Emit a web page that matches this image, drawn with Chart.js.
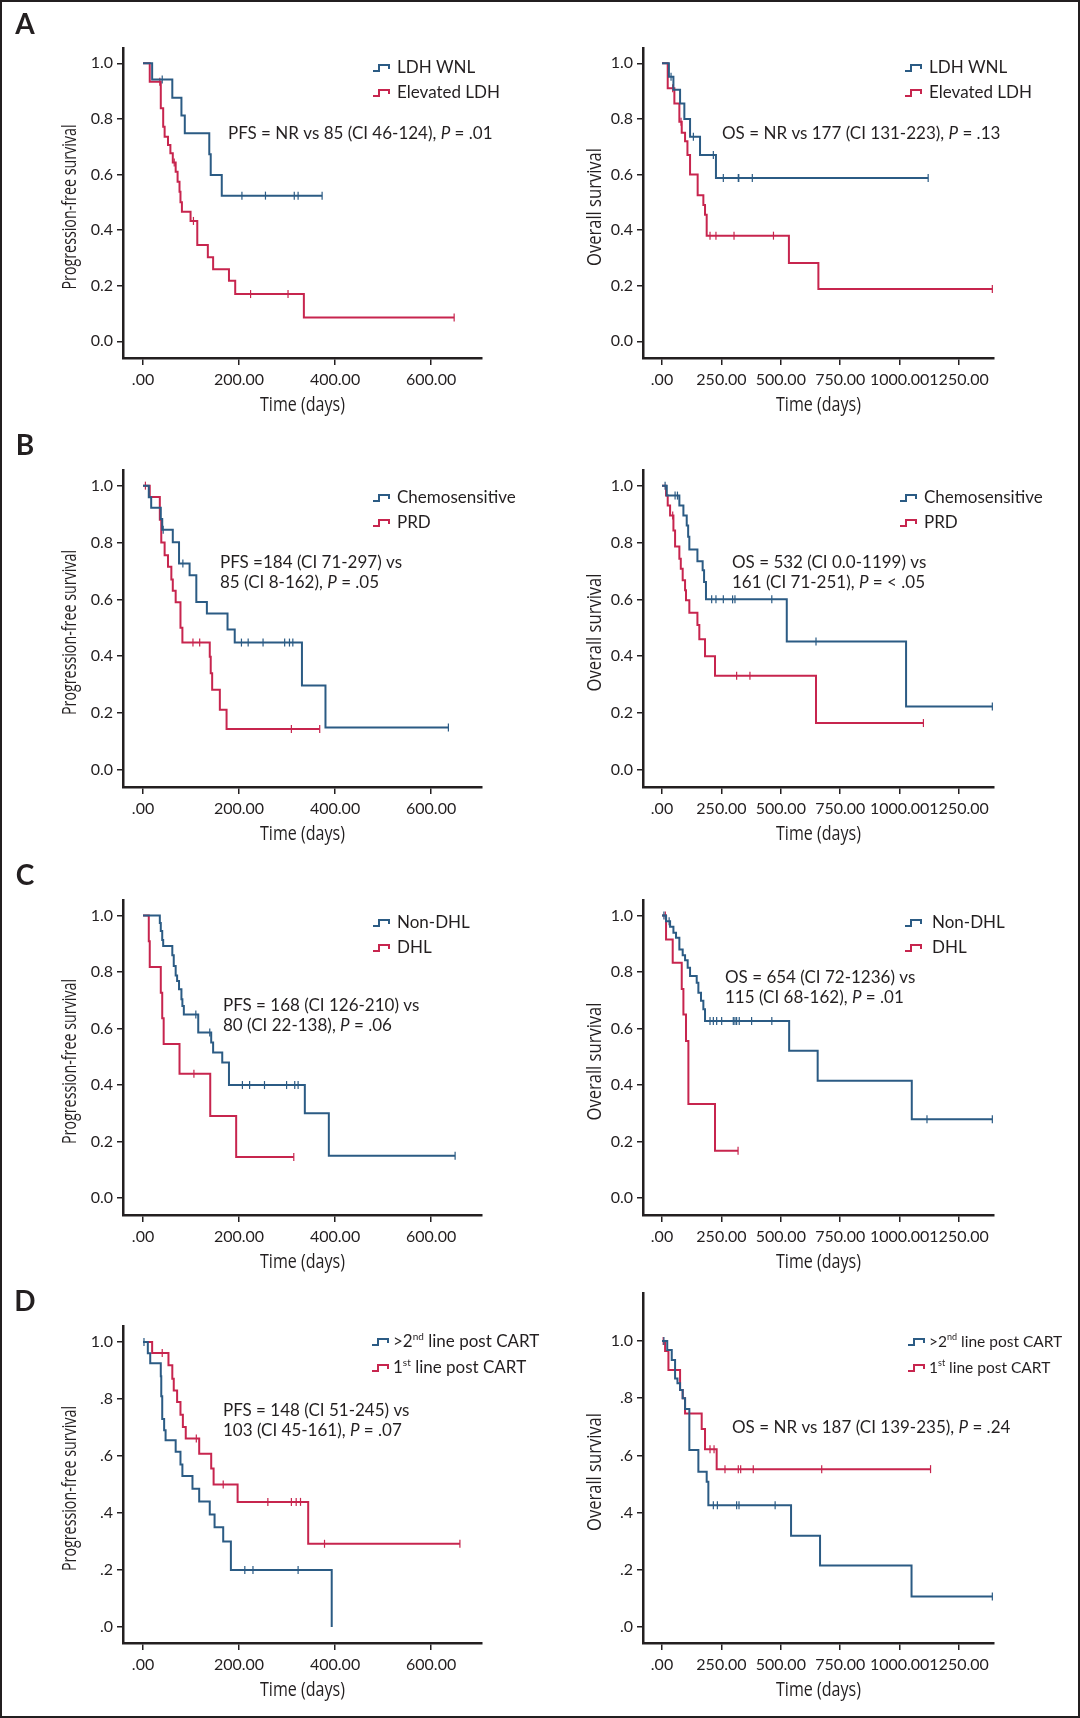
<!DOCTYPE html>
<html>
<head>
<meta charset="utf-8">
<script src="https://cdn.jsdelivr.net/npm/chart.js@4.4.1/dist/chart.umd.min.js"></script>
<style>
  html, body { margin: 0; padding: 0; background: #fff; }
  #fig { position: relative; width: 1080px; height: 1718px; overflow: hidden; }
  #frame { position: absolute; left: 0; top: 0; width: 1080px; height: 1718px; box-sizing: border-box; border: 2px solid #231f20; z-index: 2; }
  canvas { position: absolute; }
</style>
</head>
<body>
<div id="fig"><div id="frame"></div></div>
<script>
// ---- data: Kaplan-Meier steps [days, survival], censor times in days ----
const xTicksPfs = [0, 200, 400, 600];
const xTicksOs = [0, 250, 500, 750, 1000, 1250];
const yTicks = [0, 0.2, 0.4, 0.6, 0.8, 1.0];

// A: LDH
const aPfsWnl = [[0,1],[19,0.942],[61,0.876],[80,0.812],[87,0.748],[138,0.673],[141,0.598],[164,0.524],[373,0.524]];
const aPfsWnlCens = [40, 206, 255, 315, 323, 373];
const aPfsHigh = [[0,1],[14,0.934],[37,0.838],[42,0.772],[45,0.736],[52,0.706],[57,0.676],[62,0.643],[68,0.61],[72,0.574],[76,0.538],[78,0.5],[81,0.466],[99,0.433],[113,0.346],[135,0.302],[146,0.259],[179,0.218],[192,0.17],[335,0.086],[648,0.086]];
const aPfsHighCens = [35, 65, 105, 224, 302, 648];
const aOsWnl = [[0,1],[29,0.952],[48,0.905],[76,0.855],[94,0.8],[118,0.736],[160,0.67],[227,0.587],[1120,0.587]];
const aOsWnlCens = [38, 132, 216, 258, 321, 323, 380, 1120];
const aOsHigh = [[0,1],[24,0.91],[52,0.855],[73,0.79],[83,0.75],[97,0.72],[107,0.67],[118,0.6],[150,0.525],[174,0.49],[181,0.455],[188,0.38],[534,0.282],[658,0.188],[1390,0.188]];
const aOsHighCens = [45, 80, 202, 227, 303, 469, 1390];

// B: chemosensitive vs PRD
const bPfsChemo = [[0,1],[12,0.959],[17,0.922],[37,0.883],[40,0.845],[62,0.801],[75,0.726],[97,0.685],[111,0.591],[133,0.55],[176,0.494],[191,0.448],[331,0.297],[380,0.149],[636,0.149]];
const bPfsChemoCens = [42, 83, 205, 219, 250, 295, 305, 312, 636];
const bPfsPrd = [[0,1],[14,0.96],[35,0.88],[38,0.8],[45,0.755],[52,0.715],[59,0.67],[62,0.63],[68,0.59],[78,0.5],[82,0.448],[139,0.398],[141,0.34],[144,0.282],[160,0.212],[174,0.144],[368,0.144]];
const bPfsPrdCens = [5, 104, 118, 309, 368];
const bOsChemo = [[0,1],[20,0.965],[73,0.93],[90,0.895],[104,0.86],[110,0.82],[115,0.775],[149,0.734],[171,0.702],[177,0.661],[185,0.6],[525,0.452],[1027,0.223],[1390,0.223]];
const bOsChemoCens = [13, 55, 65, 209, 227, 258, 297, 307, 462, 648, 1390];
const bOsPrd = [[0,1],[17,0.965],[24,0.93],[34,0.895],[48,0.842],[55,0.786],[73,0.743],[79,0.708],[87,0.667],[97,0.632],[101,0.597],[115,0.553],[149,0.51],[157,0.46],[181,0.4],[223,0.331],[648,0.165],[1100,0.165]];
const bOsPrdCens = [45, 314, 370, 1100];

// C: non-DHL vs DHL
const cPfsNon = [[0,1],[35,0.974],[37,0.945],[40,0.913],[42,0.892],[61,0.859],[64,0.821],[68,0.788],[71,0.768],[75,0.739],[80,0.704],[82,0.68],[85,0.65],[115,0.586],[142,0.551],[146,0.515],[165,0.48],[179,0.4],[337,0.3],[387,0.15],[650,0.15]];
const cPfsNonCens = [110, 139, 207, 222, 253, 299, 316, 323, 650];
const cPfsDhl = [[0,1],[12,0.909],[14,0.818],[37,0.727],[40,0.636],[43,0.545],[76,0.44],[140,0.29],[194,0.145],[314,0.145]];
const cPfsDhlCens = [106, 314];
const cOsNon = [[0,1],[17,0.98],[34,0.96],[48,0.939],[59,0.921],[73,0.88],[87,0.859],[97,0.842],[108,0.815],[118,0.786],[146,0.762],[153,0.727],[164,0.698],[174,0.668],[181,0.627],[535,0.521],[655,0.415],[1051,0.279],[1390,0.279]];
const cOsNonCens = [8, 30, 202, 216, 230, 251, 300, 307, 314, 325, 377, 462, 1115, 1390];
const cOsDhl = [[0,1],[17,0.915],[45,0.833],[83,0.74],[90,0.65],[101,0.556],[111,0.333],[223,0.167],[320,0.167]];
const cOsDhlCens = [14, 320];

// D: >2nd line vs 1st line post CART
const dPfsLate = [[0,1],[10,0.96],[15,0.925],[37,0.88],[38,0.81],[40,0.73],[44,0.69],[47,0.655],[68,0.615],[78,0.57],[82,0.53],[103,0.485],[117,0.44],[139,0.395],[149,0.35],[167,0.3],[183,0.2],[393,0.0]];
const dPfsLateCens = [2, 212, 229, 323];
const dPfsFirst = [[0,1],[19,0.961],[53,0.918],[61,0.871],[64,0.83],[71,0.789],[78,0.745],[83,0.702],[89,0.661],[117,0.608],[142,0.556],[147,0.5],[197,0.439],[344,0.292],[660,0.292]];
const dPfsFirstCens = [40, 111, 167, 260, 309, 319, 328, 378, 660];
const dOsLate = [[0,1],[22,0.969],[41,0.934],[55,0.869],[65,0.852],[76,0.829],[87,0.8],[97,0.762],[115,0.619],[153,0.543],[188,0.508],[195,0.426],[543,0.319],[665,0.215],[1050,0.107],[1390,0.107]];
const dOsLateCens = [8, 216, 233, 314, 324, 476, 1390];
const dOsFirst = [[0,1],[13,0.965],[27,0.899],[76,0.829],[87,0.8],[97,0.747],[167,0.692],[181,0.622],[230,0.552],[1130,0.552]];
const dOsFirstCens = [5, 202, 219, 265, 321, 331, 384, 672, 1130];

// ---- styles ----
const ink = '#231f20';
const blue = '#2b5b84';
const red = '#c7254e';
const tickFont = { family: 'Lato, "Open Sans", sans-serif', size: 16 };
const textFamily = 'Lato, "Open Sans", sans-serif';

function survAt(steps, t) {
  let s = 1;
  for (const [ti, si] of steps) { if (ti <= t) s = si; }
  return s;
}

// draws text with *italic* and ^superscript^ runs
function drawRuns(ctx, x, y, str, size) {
  const parts = str.split(/(\*[^*]+\*|\^[^^]+\^)/).filter(s => s.length);
  for (const part of parts) {
    let txt = part, font = size + 'px ' + textFamily, dy = 0;
    if (part[0] === '*') { txt = part.slice(1, -1); font = 'italic ' + size + 'px ' + textFamily; }
    if (part[0] === '^') { txt = part.slice(1, -1); font = Math.round(size * 0.6) + 'px ' + textFamily; dy = -size * 0.3; }
    ctx.font = font;
    ctx.fillText(txt, x, y + dy);
    x += ctx.measureText(txt).width;
  }
}

function fitText(ctx, txt, cx, cy, width, rotate) {
  ctx.save();
  ctx.font = '20px "Open Sans", sans-serif';
  const w = ctx.measureText(txt).width;
  ctx.translate(cx, cy);
  if (rotate) ctx.rotate(-Math.PI / 2);
  ctx.scale(width / w, 1);
  ctx.textAlign = 'center';
  ctx.textBaseline = 'middle';
  ctx.fillText(txt, 0, 0);
  ctx.restore();
}

const panels = [
  { letter: 'A', box: [4, 4, 552, 426], area: [123, 48, 482, 358], xr: [-41.7, 706], yr: [-0.06, 1.055], xt: xTicksPfs, dot: false,
    curves: [[aPfsWnl, aPfsWnlCens, blue], [aPfsHigh, aPfsHighCens, red]], names: ['LDH WNL', 'Elevated LDH'],
    leg: [373, 397, 68, 93, 17], yTitle: ['Progression-free survival', 165], note: [228, 134, ['PFS = NR vs 85 (CI 46-124), *P* = .01']] },
  { box: [556, 4, 522, 426], area: [643, 48, 994, 358], xr: [-80, 1397], yr: [-0.06, 1.055], xt: xTicksOs, dot: false,
    curves: [[aOsWnl, aOsWnlCens, blue], [aOsHigh, aOsHighCens, red]], names: ['LDH WNL', 'Elevated LDH'],
    leg: [905, 929, 68, 93, 17], yTitle: ['Overall survival', 118], note: [722, 134, ['OS = NR vs 177 (CI 131-223), *P* = .13']] },
  { letter: 'B', box: [4, 432, 552, 426], area: [123, 470, 482, 787], xr: [-41.7, 706], yr: [-0.06, 1.055], xt: xTicksPfs, dot: false,
    curves: [[bPfsChemo, bPfsChemoCens, blue], [bPfsPrd, bPfsPrdCens, red]], names: ['Chemosensitive', 'PRD'],
    leg: [373, 397, 498, 523, 17], yTitle: ['Progression-free survival', 165], note: [220, 563, ['PFS =184 (CI 71-297) vs', '85 (CI 8-162), *P* = .05']] },
  { box: [556, 432, 522, 426], area: [643, 470, 994, 787], xr: [-80, 1397], yr: [-0.06, 1.055], xt: xTicksOs, dot: false,
    curves: [[bOsChemo, bOsChemoCens, blue], [bOsPrd, bOsPrdCens, red]], names: ['Chemosensitive', 'PRD'],
    leg: [900, 924, 498, 523, 17], yTitle: ['Overall survival', 118], note: [732, 563, ['OS = 532 (CI 0.0-1199) vs', '161 (CI 71-251), *P* = < .05']] },
  { letter: 'C', box: [4, 860, 552, 418], area: [123, 900, 482, 1215], xr: [-41.7, 706], yr: [-0.06, 1.055], xt: xTicksPfs, dot: false,
    curves: [[cPfsNon, cPfsNonCens, blue], [cPfsDhl, cPfsDhlCens, red]], names: ['Non-DHL', 'DHL'],
    leg: [373, 397, 923, 948, 17], yTitle: ['Progression-free survival', 165], note: [223, 1006, ['PFS = 168 (CI 126-210) vs', '80 (CI 22-138), *P* = .06']] },
  { box: [556, 860, 522, 418], area: [643, 900, 994, 1215], xr: [-80, 1397], yr: [-0.06, 1.055], xt: xTicksOs, dot: false,
    curves: [[cOsNon, cOsNonCens, blue], [cOsDhl, cOsDhlCens, red]], names: ['Non-DHL', 'DHL'],
    leg: [905, 932, 923, 948, 17], yTitle: ['Overall survival', 118], note: [725, 978, ['OS = 654 (CI 72-1236) vs', '115 (CI 68-162), *P* = .01']] },
  { letter: 'D', box: [4, 1276, 552, 438], area: [123, 1326, 482, 1643], xr: [-41.7, 706], yr: [-0.056, 1.056], xt: xTicksPfs, dot: true,
    curves: [[dPfsLate, dPfsLateCens, blue], [dPfsFirst, dPfsFirstCens, red]], names: ['>2^nd^ line post CART', '1^st^ line post CART'],
    leg: [372, 393, 1342, 1368, 17], yTitle: ['Progression-free survival', 165], note: [223, 1411, ['PFS = 148 (CI 51-245) vs', '103 (CI 45-161), *P* = .07']] },
  { box: [556, 1276, 522, 438], area: [643, 1293, 994, 1643], xr: [-80, 1397], yr: [-0.056, 1.168], xt: xTicksOs, dot: true,
    curves: [[dOsLate, dOsLateCens, blue], [dOsFirst, dOsFirstCens, red]], names: ['>2^nd^ line post CART', '1^st^ line post CART'],
    leg: [908, 929, 1342, 1368, 15.5], yTitle: ['Overall survival', 118], note: [732, 1428, ['OS = NR vs 187 (CI 139-235), *P* = .24']] }
];

const fig = document.getElementById('fig');

function addPanel(p) {
  const [bx, by, bw, bh] = p.box;
  const [al, at, ar, ab] = p.area;
  const c = document.createElement('canvas');
  c.width = bw; c.height = bh;
  c.style.left = bx + 'px'; c.style.top = by + 'px';
  c.style.width = bw + 'px'; c.style.height = bh + 'px';
  fig.appendChild(c);

  const datasets = [];
  p.curves.forEach(([steps, cens, col]) => {
    datasets.push({
      data: steps.map(([t, s]) => ({ x: t, y: s })),
      stepped: true, borderColor: col, borderWidth: 2, pointRadius: 0, fill: false
    });
    datasets.push({
      data: cens.map(t => ({ x: t, y: survAt(steps, t) })),
      showLine: false, pointStyle: 'line', rotation: 90, pointRadius: 4,
      pointBorderColor: col, pointBorderWidth: 1.2, pointBackgroundColor: col
    });
  });

  const textPlugin = {
    id: 'panelText',
    afterDraw(chart) {
      const ctx = chart.ctx;
      const ca = chart.chartArea;
      ctx.save();
      ctx.fillStyle = ink;
      ctx.textBaseline = 'middle';
      if (p.letter) {
        ctx.font = 'bold 28px ' + textFamily;
        ctx.textAlign = 'center';
        ctx.fillText(p.letter, 25 - bx, (by === 4 ? 25 : at - 24) - by);
      }
      // axis titles
      fitText(ctx, 'Time (days)', (ca.left + ca.right) / 2, ca.bottom + 47, 85, false);
      fitText(ctx, p.yTitle[0], ca.left - (bx < 100 ? 53 : 48), (ca.top + ca.bottom) / 2 + 4, p.yTitle[1], true);
      // legend
      ctx.textAlign = 'left';
      const [sx, tx, y1, y2, fs] = p.leg;
      [y1, y2].forEach((yy, i) => {
        const col = p.curves[i][2];
        const x0 = sx - bx, y0 = yy - by;
        ctx.strokeStyle = col;
        ctx.lineWidth = 2;
        ctx.beginPath();
        ctx.moveTo(x0, y0 + 3); ctx.lineTo(x0 + 6, y0 + 3); ctx.lineTo(x0 + 6, y0 - 3);
        ctx.lineTo(x0 + 16, y0 - 3); ctx.lineTo(x0 + 16, y0 + 1);
        ctx.stroke();
        ctx.fillStyle = ink;
        drawRuns(ctx, tx - bx, y0, p.names[i], fs);
      });
      // annotation
      const [nx, ny, lines] = p.note;
      lines.forEach((ln, i) => drawRuns(ctx, nx - bx, ny - by + i * 20, ln, 17));
      ctx.restore();
    }
  };

  new Chart(c.getContext('2d'), {
    type: 'line',
    data: { datasets },
    options: {
      responsive: false,
      animation: false,
      events: [],
      devicePixelRatio: 1,
      layout: { padding: { left: 0, top: at - by, right: bx + bw - ar, bottom: 0 } },
      plugins: { legend: { display: false }, tooltip: { enabled: false } },
      scales: {
        x: {
          type: 'linear', min: p.xr[0], max: p.xr[1],
          afterBuildTicks: s => { s.ticks = p.xt.map(v => ({ value: v })); },
          afterFit: s => { s.height = by + bh - ab; },
          grid: { display: true, drawOnChartArea: false, drawTicks: true, tickLength: 7, color: ink, lineWidth: 1.5 },
          border: { display: true, color: ink, width: 2.5 },
          ticks: { color: ink, font: tickFont, padding: 5, maxRotation: 0, autoSkip: false,
            callback: v => (v === 0 ? '.00' : v.toFixed(2)) }
        },
        y: {
          type: 'linear', min: p.yr[0], max: p.yr[1],
          afterBuildTicks: s => { s.ticks = yTicks.map(v => ({ value: v })); },
          afterFit: s => { s.width = al - bx; },
          grid: { display: true, drawOnChartArea: false, drawTicks: true, tickLength: 6, color: ink, lineWidth: 1.5 },
          border: { display: true, color: ink, width: 2.5 },
          ticks: { color: ink, font: tickFont, padding: 4,
            callback: v => {
              if (!p.dot) return v.toFixed(1);
              return v === 1 ? '1.0' : v.toFixed(1).replace(/^0/, '');
            } }
        }
      }
    },
    plugins: [textPlugin]
  });
}

panels.forEach(addPanel);
</script>
</body>
</html>
